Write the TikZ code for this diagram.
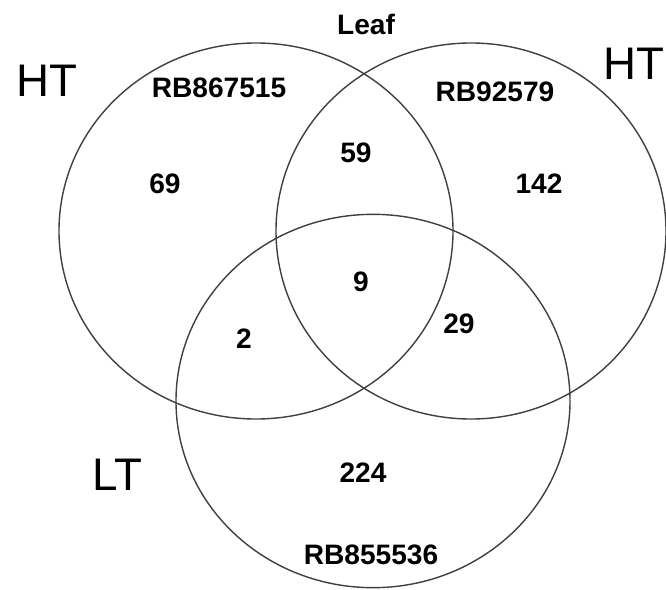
\documentclass[tikz,border=0pt]{standalone}
\usepackage{fontspec}
\setmainfont{Liberation Sans}

\begin{document}
\begin{tikzpicture}[
    x=0.03cm, y=-0.03cm,
    set/.style={draw=black!75, line width=1.2pt},
    count/.style={font=\fontsize{24}{28}\selectfont\bfseries, inner sep=0pt},
    cond/.style={font=\fontsize{39}{44}\selectfont, inner sep=0pt},
  ]
  \useasboundingbox (0,0) rectangle (666,590);

  % the three sets
  \draw[set] (256,231) ellipse [x radius=5.91cm, y radius=5.64cm];
  \draw[set] (471,231) ellipse [x radius=5.85cm, y radius=5.64cm];
  \draw[set] (373,401) ellipse [x radius=5.91cm, y radius=5.6cm];

  % titles
  \node[count] (leaf) at (366,24) {Leaf};
  \node[cond] (htleft) at (47,81) {HT};
  \node[cond, anchor=east] (htright) at (665,64) {HT};
  \node[cond] (lt) at (117,475) {LT};

  \node[count] (rbleft) at (219,88) {RB867515};
  \node[count] (rbright) at (495,92) {RB92579};
  \node[count] (rbbottom) at (371,555) {RB855536};

  % counts
  \node[count] (onlyleft) at (165,184) {69};
  \node[count] (leftright) at (356,153) {59};
  \node[count] (onlyright) at (539,184) {142};
  \node[count] (all) at (361,282) {9};
  \node[count] (leftbottom) at (244,339) {2};
  \node[count] (rightbottom) at (459,324) {29};
  \node[count] (onlybottom) at (363,473) {224};
\end{tikzpicture}
\end{document}
